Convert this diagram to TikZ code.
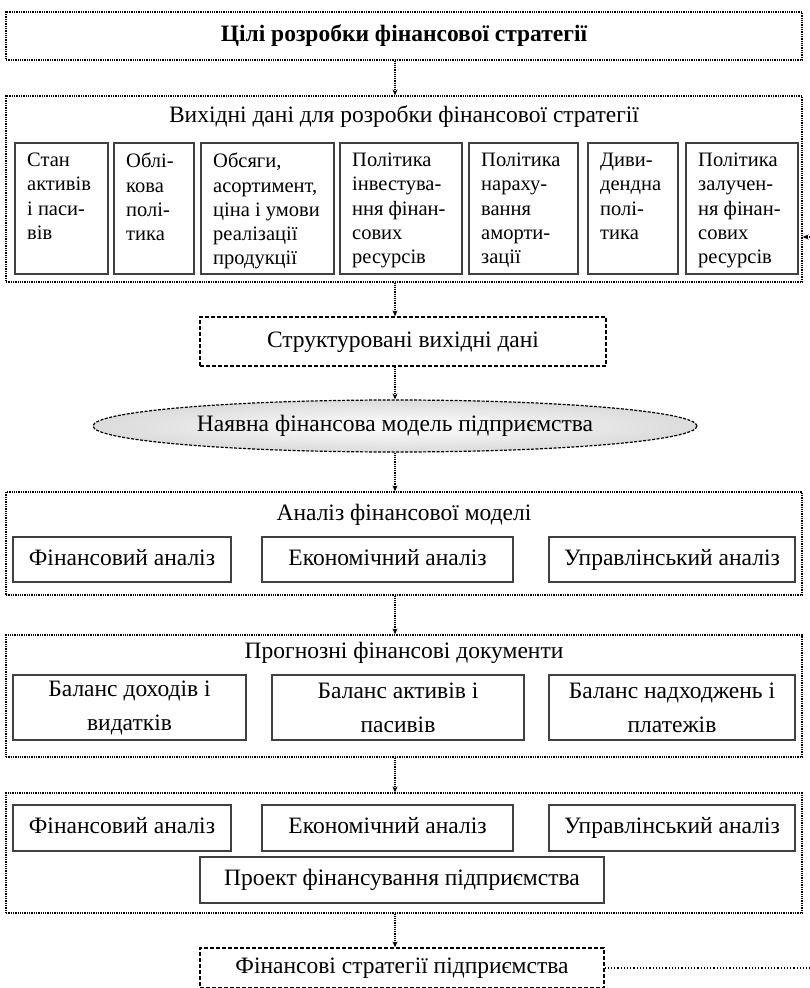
\documentclass[tikz,border=0pt]{standalone}
\usepackage{fontspec}
\setmainfont{Liberation Serif}
\usetikzlibrary{arrows.meta,shapes.geometric}

\begin{document}
\begin{tikzpicture}[x=1pt,y=-1pt,
    frame/.style={draw, densely dotted, line width=1.3pt, minimum width=796pt, inner sep=0pt},
    dframe/.style={draw, dash pattern=on 4pt off 2pt, line width=1.3pt, inner sep=0pt},
    cell/.style={draw=black!75, line width=2.2pt, inner sep=0pt},
    txt/.style={font=\fontsize{23.5}{27}\selectfont, text height=16pt, text depth=5pt},
    celltxt/.style={font=\fontsize{20.5}{24.2}\selectfont, anchor=north west, align=left, inner xsep=13pt, inner ysep=11pt},
    conn/.style={densely dotted, line width=1.2pt, -{Stealth[length=6pt,width=5pt]}}]
    \useasboundingbox (0,0) rectangle (810,988);
    \coordinate (axis) at (395,0);

    % goals and source data
    \node[frame, txt, minimum height=48] (goals) at (404,36) {\textbf{Цілі розробки фінансової стратегії}};
    \node[frame, minimum height=186] (src) at (404,189) {};
    \node[txt] (srcT) at (404,117) {Вихідні дані для розробки фінансової стратегії};
    \foreach \l/\r/\t [count=\i] in {14/107/{Стан\\активів\\і паси-\\вів}, 113/193/{Облі-\\кова\\полі-\\тика},
        200/333/{Обсяги,\\асортимент,\\ціна і умови\\реалізації\\продукції}, 339/461/{Політика\\інвестува-\\ння фінан-\\сових\\ресурсів},
        468/577/{Політика\\нараху-\\вання\\аморти-\\зації}, 587/677/{Диви-\\дендна\\полі-\\тика},
        685/797/{Політика\\залучен-\\ня фінан-\\сових\\ресурсів}} {
        \node[cell, anchor=north west, minimum width={\r-\l}, minimum height=131] (s\i) at (\l,142) {};
        \node[celltxt] (st\i) at (s\i.north west) {\t};
    }

    % model
    \node[dframe, txt, minimum width=406, minimum height=49] (struct) at (403,341.5) {Структуровані вихідні дані};
    \node[ellipse, draw, dash pattern=on 3pt off 1.5pt, line width=1.2pt, inner color=white, outer color=black!14,
        minimum width=604, minimum height=52, inner sep=0pt, txt] (model) at (395,426) {Наявна фінансова модель підприємства};

    % analysis
    \node[frame, minimum height=103] (anal) at (404,543.5) {};
    \node[txt] (analT) at (404,515) {Аналіз фінансової моделі};
    \foreach \l/\r/\t [count=\i] in {13/231/Фінансовий аналіз, 262/513/Економічний аналіз, 549/795/Управлінський аналіз}
        \node[cell, txt, minimum width={\r-\l}, minimum height=45] (a\i) at ({(\l+\r)/2},559.5) {\t};

    % forecast documents
    \node[frame, minimum height=122] (prog) at (404,696) {};
    \node[txt] (progT) at (404,653) {Прогнозні фінансові документи};
    \foreach \l/\r/\t [count=\i] in {13/246/{Баланс доходів і\\видатків}, 272/524/{Баланс активів і\\пасивів}, 549/795/{Баланс надходжень і\\платежів}}
        \node[cell, font=\fontsize{23.5}{34}\selectfont, align=center, minimum width={\r-\l}, minimum height=65] (b\i) at ({(\l+\r)/2},707.5) {\t};

    % financing project
    \node[frame, minimum height=120] (proj) at (404,853) {};
    \foreach \l/\r/\t [count=\i] in {13/231/Фінансовий аналіз, 262/513/Економічний аналіз, 549/795/Управлінський аналіз}
        \node[cell, txt, minimum width={\r-\l}, minimum height=46] (p\i) at ({(\l+\r)/2},828) {\t};
    \node[cell, txt, minimum width=404, minimum height=46] (projF) at (402,880) {Проект фінансування підприємства};
    \node[dframe, txt, minimum width=404, minimum height=40] (strat) at (402,968) {Фінансові стратегії підприємства};

    % connectors
    \foreach \a/\b in {goals/src, src/struct, struct/model, model/anal, anal/prog, prog/proj, proj/strat}
        \draw[conn] (\a.south -| axis) -- (\b.north -| axis);
    \coordinate (fbA) at (810,968); \coordinate (fbB) at (810,237);
    \draw[dotted, line width=1.2pt] (strat.east) -- (strat.east -| fbA);
    \draw[conn] (fbB) -- (fbB -| src.east);
\end{tikzpicture}
\end{document}
